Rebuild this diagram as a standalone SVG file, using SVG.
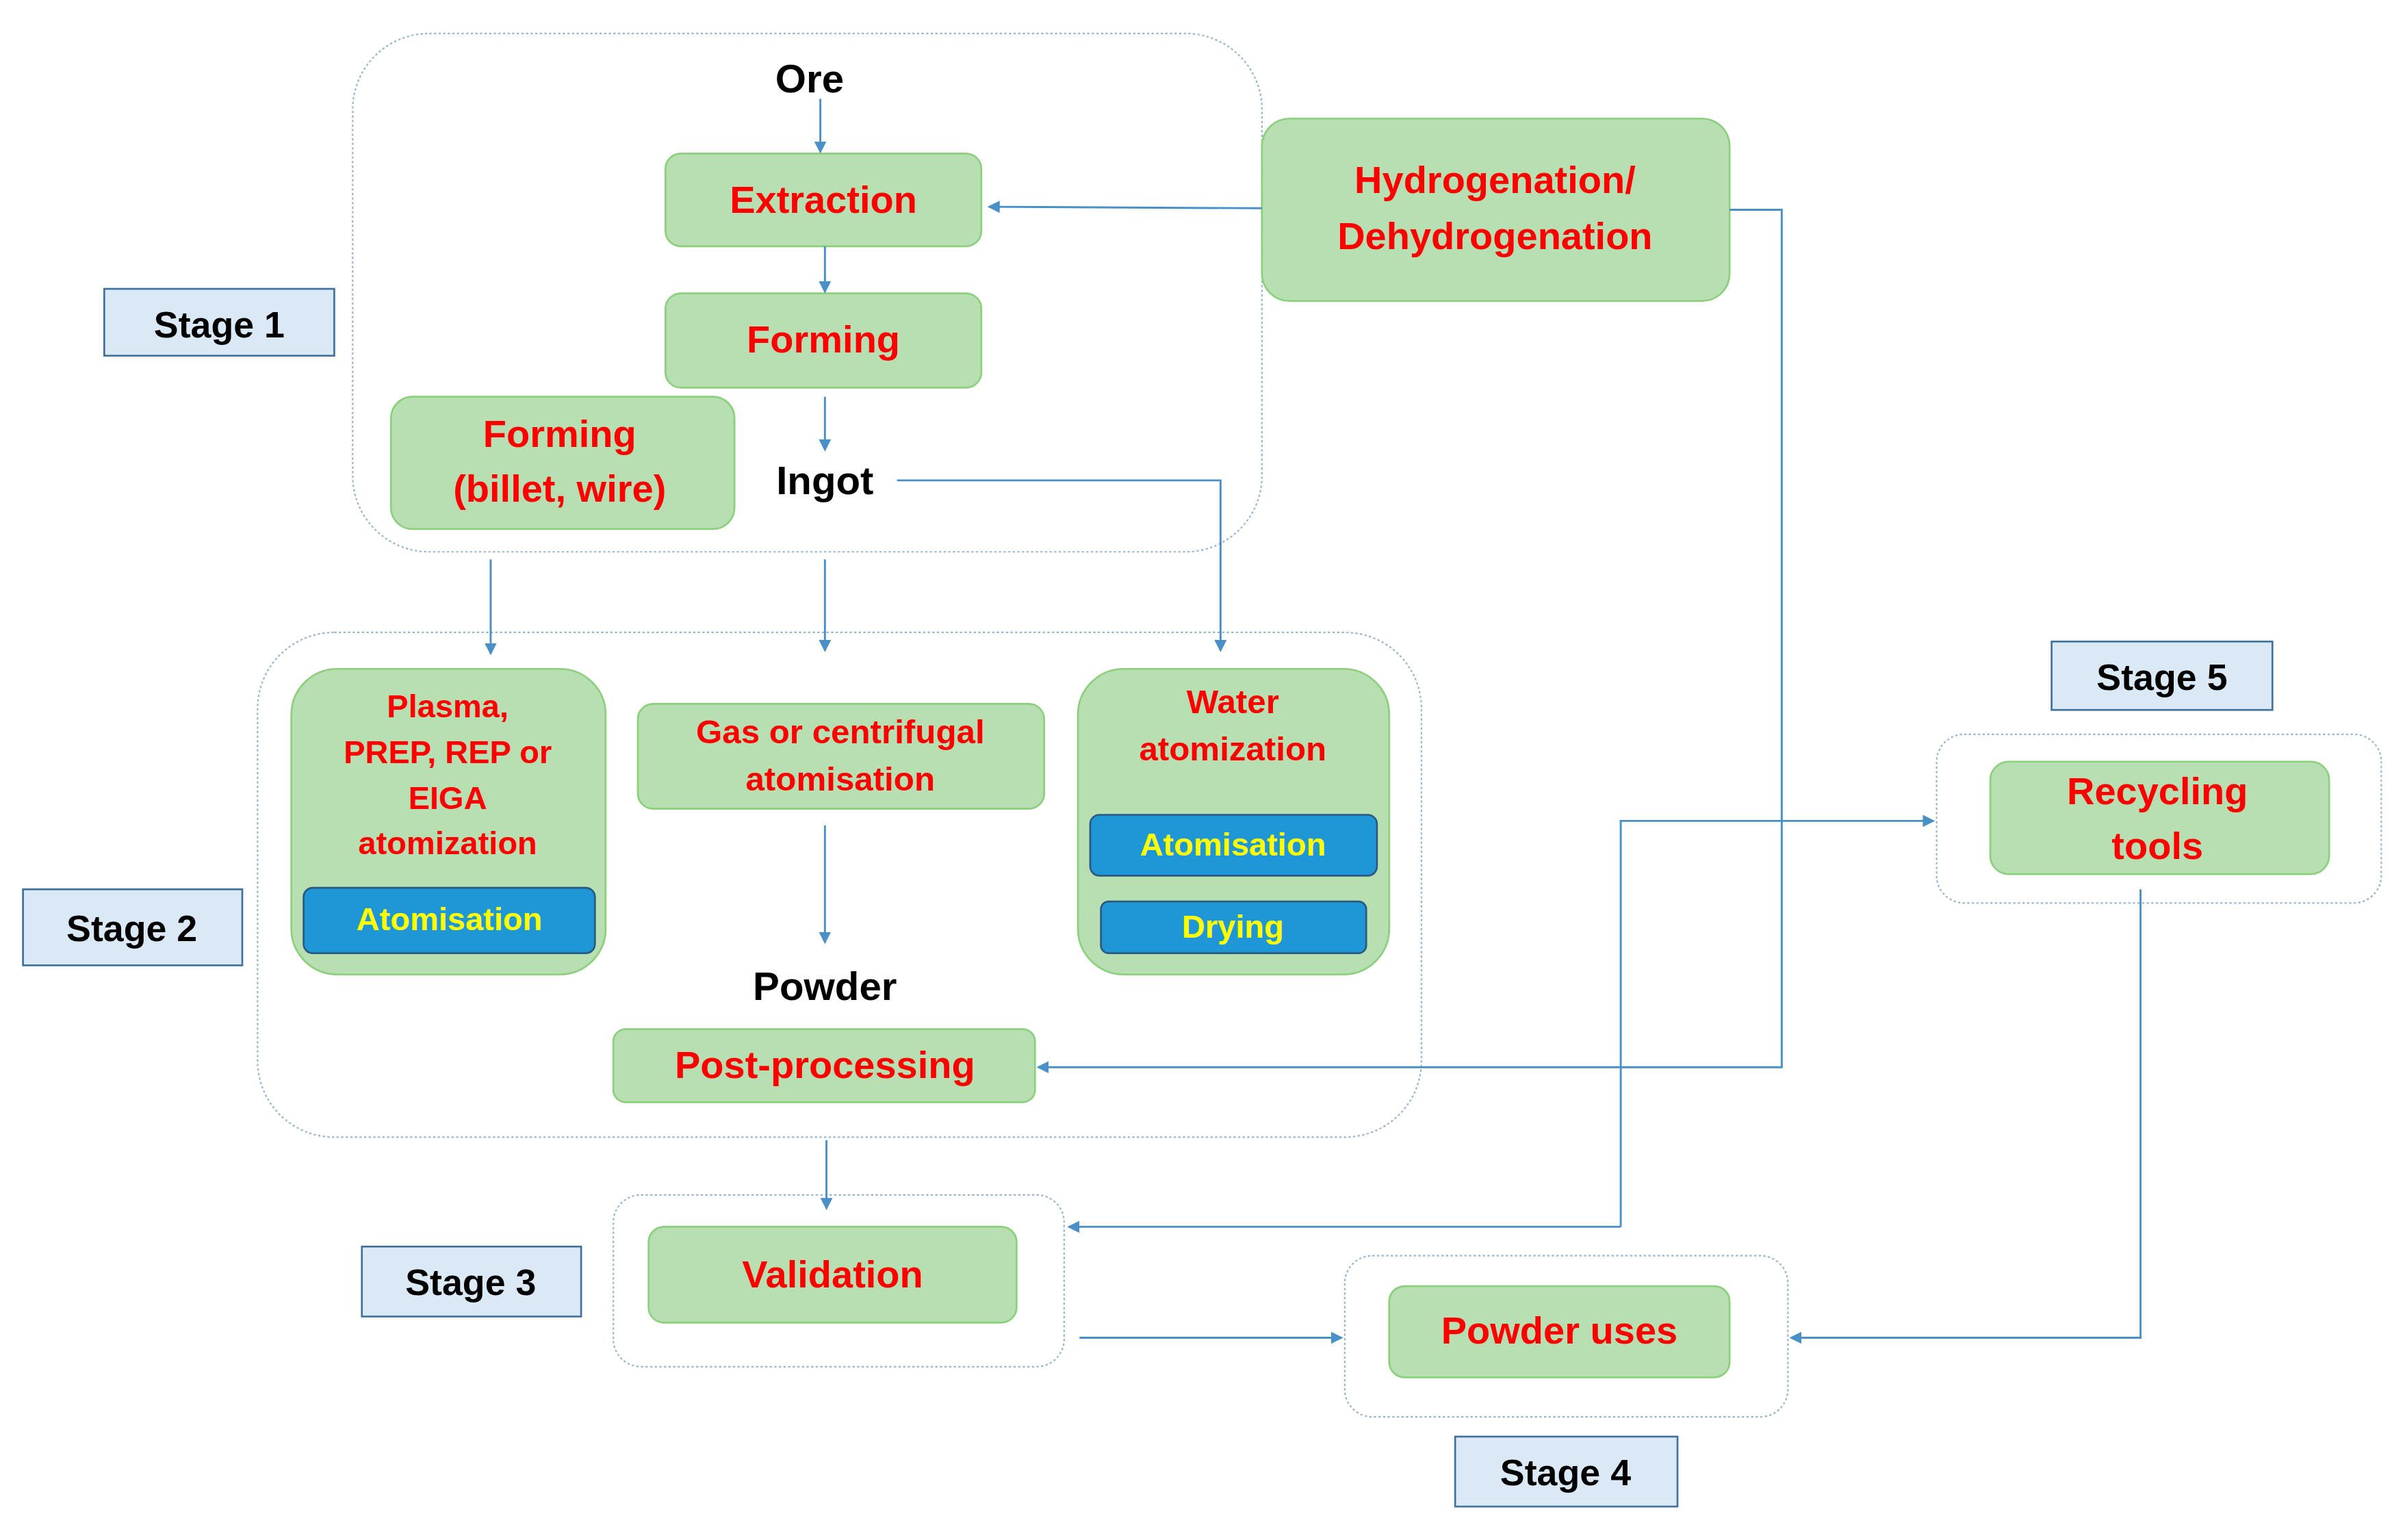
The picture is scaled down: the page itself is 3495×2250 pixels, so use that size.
<svg xmlns="http://www.w3.org/2000/svg" width="3495" height="2250" viewBox="0 0 3495 2250">
<style>
.grp{fill:none;stroke:#9ab6cf;stroke-width:1;stroke-dasharray:1.5 1.5}
.stage rect{fill:#dbe9f7;stroke:#41719c;stroke-width:1.2}
.stage text{font:bold 24px "Liberation Sans",Arial,sans-serif;fill:#000;text-anchor:middle}
.gn rect{fill:#b7dfb1;stroke:#8ccf7c;stroke-width:1.2}
.gn rect.bn{fill:#1f97d6;stroke:#2a5a80;stroke-width:1.2}
.rt{font:bold 25px "Liberation Sans",Arial,sans-serif;fill:#ff0000;text-anchor:middle}
.rs{font:bold 21px "Liberation Sans",Arial,sans-serif;fill:#ff0000;text-anchor:middle}
.yt{font:bold 21px "Liberation Sans",Arial,sans-serif;fill:#ffff00;text-anchor:middle}
.bt{font:bold 26px "Liberation Sans",Arial,sans-serif;fill:#000;text-anchor:middle}
.c path{fill:none;stroke:#4a90c8;stroke-width:1.3}
</style>
<defs><marker id="a" markerWidth="8" markerHeight="8" refX="7" refY="4" orient="auto" markerUnits="userSpaceOnUse"><path d="M0,0 L8,4 L0,8 Z" fill="#4a90c8"/></marker></defs>
<rect width="3495" height="2250" fill="#fff"/>
<g transform="scale(2.2404,2.2211)">
<g id="groups">
<rect class="grp" x="230" y="22" width="593" height="341" rx="50"/>
<rect class="grp" x="168" y="416" width="759" height="332" rx="50"/>
<rect class="grp" x="400" y="786" width="294" height="113" rx="18"/>
<rect class="grp" x="877" y="826" width="289" height="106" rx="18"/>
<rect class="grp" x="1263" y="483" width="290" height="111" rx="18"/>
</g>
<g id="stage1" class="stage"><rect x="68" y="190" width="150" height="44"/><text x="143" y="222">Stage 1</text></g>
<g id="stage2" class="stage"><rect x="15" y="585" width="143" height="50"/><text x="86" y="619">Stage 2</text></g>
<g id="stage3" class="stage"><rect x="236" y="820" width="143" height="46"/><text x="307" y="852">Stage 3</text></g>
<g id="stage4" class="stage"><rect x="949" y="945" width="145" height="46"/><text x="1021" y="977">Stage 4</text></g>
<g id="stage5" class="stage"><rect x="1338" y="422" width="144" height="45"/><text x="1410" y="454">Stage 5</text></g>
<g id="ore"><text class="bt" x="528" y="61">Ore</text></g>
<g id="ingot"><text class="bt" x="538" y="325">Ingot</text></g>
<g id="powder"><text class="bt" x="538" y="658">Powder</text></g>
<g id="extraction" class="gn"><rect x="434" y="101" width="206" height="61" rx="10"/><text class="rt" x="537" y="140">Extraction</text></g>
<g id="forming" class="gn"><rect x="434" y="193" width="206" height="62" rx="10"/><text class="rt" x="537" y="232">Forming</text></g>
<g id="forming2" class="gn"><rect x="255" y="261" width="224" height="87" rx="14"/><text class="rt" x="365" y="294">Forming</text><text class="rt" x="365" y="330">(billet, wire)</text></g>
<g id="hydro" class="gn"><rect x="823" y="78" width="305" height="120" rx="18"/><text class="rt" x="975" y="127">Hydrogenation/</text><text class="rt" x="975" y="164">Dehydrogenation</text></g>
<g id="plasma" class="gn"><rect x="190" y="440" width="205" height="201" rx="30"/><text class="rs" x="292" y="472">Plasma,</text><text class="rs" x="292" y="502">PREP, REP or</text><text class="rs" x="292" y="532">EIGA</text><text class="rs" x="292" y="562">atomization</text><rect class="bn" x="198" y="584" width="190" height="43" rx="6"/><text class="yt" x="293" y="612">Atomisation</text></g>
<g id="gas" class="gn"><rect x="416" y="463" width="265" height="69" rx="10"/><text class="rs" x="548" y="489" style="font-size:22px">Gas or centrifugal</text><text class="rs" x="548" y="520" style="font-size:22px">atomisation</text></g>
<g id="water" class="gn"><rect x="703" y="440" width="203" height="201" rx="30"/><text class="rs" x="804" y="469" style="font-size:22px">Water</text><text class="rs" x="804" y="500" style="font-size:22px">atomization</text><rect class="bn" x="711" y="536" width="187" height="40" rx="6"/><text class="yt" x="804" y="563">Atomisation</text><rect class="bn" x="718" y="593" width="173" height="34" rx="5"/><text class="yt" x="804" y="617">Drying</text></g>
<g id="post" class="gn"><rect x="400" y="677" width="275" height="48" rx="8"/><text class="rt" x="538" y="709">Post-processing</text></g>
<g id="validation" class="gn"><rect x="423" y="807" width="240" height="63" rx="10"/><text class="rt" x="543" y="847">Validation</text></g>
<g id="uses" class="gn"><rect x="906" y="846" width="222" height="60" rx="10"/><text class="rt" x="1017" y="884">Powder uses</text></g>
<g id="recycling" class="gn"><rect x="1298" y="501" width="221" height="74" rx="12"/><text class="rt" x="1407" y="529">Recycling</text><text class="rt" x="1407" y="565">tools</text></g>
<g id="connectors" class="c">
<path d="M535,65 V100" marker-end="url(#a)"/>
<path d="M538,162 V192" marker-end="url(#a)"/>
<path d="M538,261 V296" marker-end="url(#a)"/>
<path d="M585,316 H796 V428" marker-end="url(#a)"/>
<path d="M320,368 V430" marker-end="url(#a)"/>
<path d="M538,368 V428" marker-end="url(#a)"/>
<path d="M823,137 L645,136" marker-end="url(#a)"/>
<path d="M1128,138 H1162 V702 H677" marker-end="url(#a)"/>
<path d="M538,543 V620" marker-end="url(#a)"/>
<path d="M539,750 V795" marker-end="url(#a)"/>
<path d="M704,880 H875" marker-end="url(#a)"/>
<path d="M1396,585 V880 H1168" marker-end="url(#a)"/>
<path d="M1057,807 H697" marker-end="url(#a)"/>
<path d="M1057,807 V540 H1261" marker-end="url(#a)"/>
</g>
</g>
</svg>
